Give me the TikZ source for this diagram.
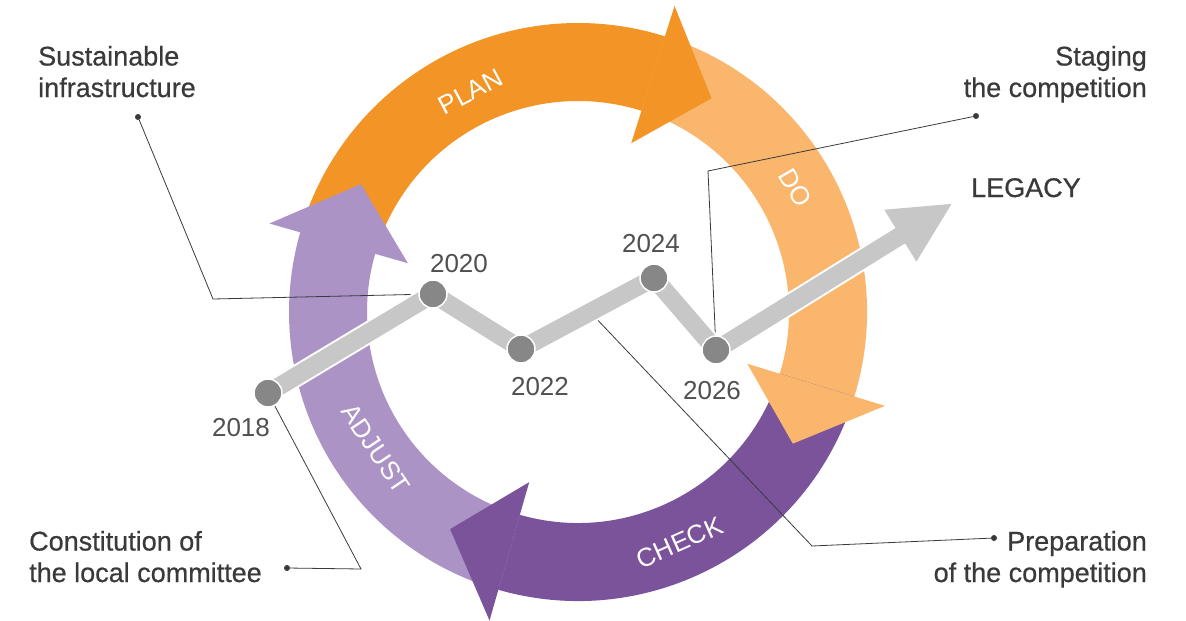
\documentclass[tikz,border=0pt]{standalone}
\usepackage{fontspec}
\setmainfont{Liberation Sans}
\newfontfamily\notefont{Liberation Sans}[FakeBold=0.6]
\definecolor{pdplan}{HTML}{F39426}
\definecolor{pddo}{HTML}{F9B66C}
\definecolor{pdcheck}{HTML}{7B539B}
\definecolor{pdadjust}{HTML}{AC93C6}
\definecolor{pdband}{HTML}{C7C7C7}
\definecolor{pddot}{HTML}{878787}
\definecolor{pdtext}{HTML}{3A3A3A}
\definecolor{pdyear}{HTML}{505050}
\usetikzlibrary{arrows.meta, calc}
\pgfdeclarelayer{ringlayer}
\pgfdeclarelayer{bandlayer}
\pgfsetlayers{ringlayer,bandlayer,main}

\begin{document}
\begin{tikzpicture}[x=1pt, y=1pt,
  every node/.style={inner sep=0pt},
  phase/.style={font=\fontsize{26}{30}\selectfont, text=white},
  yearlbl/.style={font=\fontsize{26}{30}\selectfont, text=pdyear, anchor=base},
  notetext/.style={font=\notefont\fontsize{27}{31.5}\selectfont, text=pdtext},
  yeardot/.style={circle, fill=pddot, draw=white, line width=1.5pt, minimum size=28pt},
  ptdot/.style={circle, fill=pdtext, minimum size=6pt},
  callout/.style={draw=pdtext, line width=0.8pt},
  band/.style={pdband, line width=18pt, line join=round},
]
  \useasboundingbox (0,0) rectangle (1186,-621);

  % Ring - bodies first, heads on top
  \begin{pgfonlayer}{ringlayer}
  \begin{scope}[shift={(578,-312)}]
    \fill[pdplan] (164:289) arc[start angle=164, end angle=72, radius=289pt]
      -- (72:211) arc[start angle=72, end angle=164, radius=211pt] -- cycle;
    \fill[pddo] (72.5:289) arc[start angle=72.5, end angle=-17.5, radius=289pt]
      -- (-17.5:211) arc[start angle=-17.5, end angle=72.5, radius=211pt] -- cycle;
    \fill[pdcheck] (-17:289) arc[start angle=-17, end angle=-106.5, radius=289pt]
      -- (-106.5:211) arc[start angle=-106.5, end angle=-17, radius=211pt] -- cycle;
    \fill[pdadjust] (-106:289) arc[start angle=-106, end angle=-196.5, radius=289pt]
      -- (-196.5:211) arc[start angle=-196.5, end angle=-106, radius=211pt] -- cycle;

    \fill[pdplan] (72.5:321) -- (58:252) -- (72.5:177) -- cycle;
    \fill[pddo] (-17:321) -- (-31.5:252) -- (-17:177) -- cycle;
    \fill[pdcheck] (-106:321) -- (-120.5:252) -- (-106:177) -- cycle;
    \fill[pdadjust] (-196:321) -- (-210.5:252) -- (-196:177) -- cycle;

    % Phase labels
    \node[phase, rotate=28] (plan) at (116:245) {PLAN};
    \node[phase, rotate=-60] (do) at (29.7:250) {DO};
    \node[phase, rotate=24] (check) at (-66.2:252) {CHECK};
    \node[phase, rotate=-56] (adjust) at (-145.9:244) {ADJUST};
  \end{scope}
  \end{pgfonlayer}

  % Timeline
  \node[yeardot] (y2018) at (268,-393) {};
  \node[yeardot] (y2020) at (433,-294) {};
  \node[yeardot] (y2022) at (521,-349) {};
  \node[yeardot] (y2024) at (654,-278) {};
  \node[yeardot] (y2026) at (716,-350) {};
  \coordinate (legtip) at (953,-203);

  \node[yearlbl] (l2018) at (241,-436) {2018};
  \node[yearlbl] (l2020) at (459,-272) {2020};
  \node[yearlbl] (l2022) at (540,-395) {2022};
  \node[yearlbl] (l2024) at (651,-252) {2024};
  \node[yearlbl] (l2026) at (712,-399) {2026};

  % Notes
  \node[notetext, align=left, anchor=base west] (sust) at (38,-97) {Sustainable\\infrastructure};
  \node[notetext, align=right, anchor=base east] (stag) at (1147,-97) {Staging\\the competition};
  \node[notetext, anchor=base west] (legacy) at (971,-197) {LEGACY};
  \node[notetext, align=left, anchor=base west] (const) at (29,-582) {Constitution of\\the local committee};
  \node[notetext, align=right, anchor=base east] (prep) at (1147,-582) {Preparation\\of the competition};

  \node[ptdot] (sustpt) at (138,-117) {};
  \node[ptdot] (stagpt) at (976,-116) {};
  \node[ptdot] (constpt) at (287,-568) {};
  \node[ptdot] (preppt) at (994,-538) {};

  \coordinate (sustbend) at (213,-299);
  \coordinate (stagbend) at (708,-171);
  \coordinate (constbend) at (361,-569);
  \coordinate (prepbend) at (812,-546);
  \coordinate (prepfoot) at ($(y2022)!0.52!(y2024)$);

  \begin{pgfonlayer}{bandlayer}
    % Callouts
    \draw[callout] (sustpt) -- (sustbend) -- (y2020);
    \draw[callout] (stagpt) -- (stagbend) -- (y2026);
    \draw[callout] (constpt) -- (constbend) -- (y2018);
    \draw[callout] (preppt) -- (prepbend) -- (prepfoot);

    % Band
    \draw[white, line width=22pt, line join=round, shorten >=58pt]
      (y2018.center) -- (y2020.center) -- (y2022.center) -- (y2024.center) -- (y2026.center) -- (legtip);
    \draw[band] (y2018.center) -- (y2020.center) -- (y2022.center) -- (y2024.center) -- (y2026.center);
    \draw[band, -{Triangle[length=62pt, width=56pt]}] (y2026.center) -- (legtip);
  \end{pgfonlayer}
\end{tikzpicture}
\end{document}
